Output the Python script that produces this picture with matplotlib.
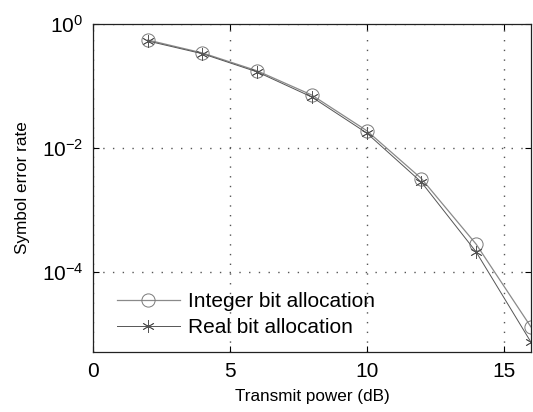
import matplotlib
matplotlib.use("Agg")
import matplotlib.pyplot as plt
from matplotlib.ticker import FixedLocator, LogFormatterSciNotation, NullLocator

plt.rcParams['font.family'] = ['Liberation Sans', 'DejaVu Sans']
plt.rcParams['mathtext.fontset'] = 'custom'
plt.rcParams['mathtext.rm'] = 'Liberation Sans'
plt.rcParams['mathtext.it'] = 'Liberation Sans'

power_db = [2, 4, 6, 8, 10, 12, 14, 16]
ser_integer = [0.55, 0.34, 0.175, 0.071, 0.019, 0.0032, 2.8e-4, 1.3e-5]
ser_real = [0.53, 0.33, 0.168, 0.066, 0.0174, 0.0028, 2.1e-4, 7.4e-6]
x_ticks = [0, 5, 10, 15]
y_ticks = [1e-4, 1e-2, 1e0]

fig = plt.figure(figsize=(5.33, 4.12), dpi=100)
ax = fig.add_axes([0.1745, 0.1456, 0.8215, 0.7964])

ax.semilogy(power_db, ser_integer, color='#8a8a8a', lw=0.9, marker='o', ms=9.5,
            mfc='none', mec='#7a7a7a', mew=0.7, label='Integer bit allocation')
ax.semilogy(power_db, ser_real, color='#555555', lw=0.7, marker=(6, 2, 0), ms=9,
            mfc='none', mec='#555555', mew=0.6, label='Real bit allocation')

ax.set_xlim(0, 16)
ax.set_ylim(5.1e-6, 1)
ax.xaxis.set_major_locator(FixedLocator(x_ticks))
ax.yaxis.set_major_locator(FixedLocator(y_ticks))
ax.yaxis.set_minor_locator(NullLocator())
ax.yaxis.set_major_formatter(LogFormatterSciNotation())
ax.tick_params(direction='in', top=True, right=True, length=4, width=0.8,
               labelsize=15, pad=7)
ax.grid(True, which='major', color='#555555', linestyle=(0, (1, 6)), lw=1)
for s in ax.spines.values():
    s.set_linewidth(0.9)
    s.set_color('#222222')

ax.set_xlabel('Transmit power (dB)', fontsize=12.3, labelpad=6)
ax.set_ylabel('Symbol error rate', fontsize=12.3, labelpad=8)

leg = ax.legend(loc='lower left', frameon=False, fontsize=15, handlelength=3.0,
                borderaxespad=0.0, bbox_to_anchor=(0.036, 0.02), handletextpad=0.4,
                labelspacing=0.35)

fig.savefig('out.png', dpi=100)
